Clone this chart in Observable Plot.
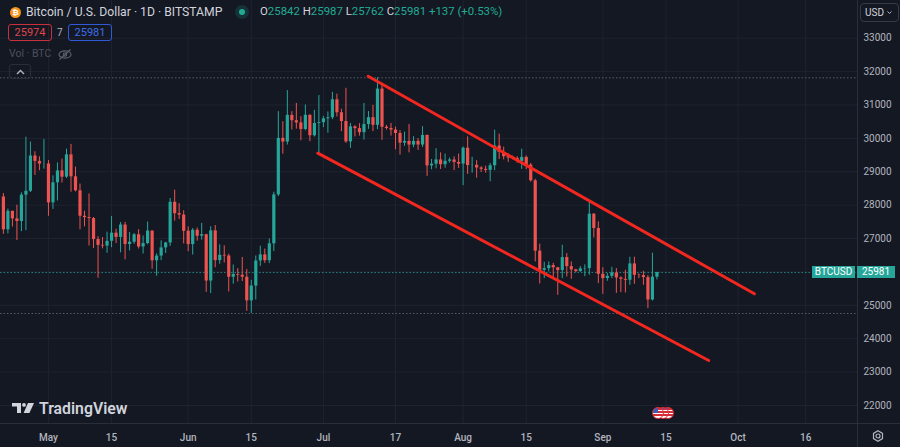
<!DOCTYPE html>
<html>
<head>
<meta charset="utf-8">
<script src="https://cdn.jsdelivr.net/npm/d3@7"></script>
<script src="https://cdn.jsdelivr.net/npm/@observablehq/plot@0.6"></script>
<style>
  html, body { margin:0; padding:0; background:#141823; }
  #wrap { position:relative; width:900px; height:447px; overflow:hidden; background:#141823; font-family: Roboto, "Noto Sans", sans-serif; }
  #wrap > svg { position:absolute; left:0; top:0; }
  .ov { position:absolute; white-space:nowrap; line-height:1; }
</style>
</head>
<body>
<div id="wrap"></div>
<script>
// ---------- DATA (BTC/USD daily, Bitstamp) ----------
const firstDay = "2023-04-21";
const opens = [
  28245,27262,27816,27590,27510,28300,28415,29472,29311,29230,
  29233,28068,28669,29026,28838,29506,28848,28430,27668,27628,27598,26969,26795,26775,26917,27162,27033,27405,26821,26890,27113,26747,26850,27225,26334,26476,26720,26868,28085,27745,27702,
  27219,26819,27249,27069,27115,25728,27230,26339,26498,26477,25841,25925,25903,25842,25134,25576,26328,26511,26336,26842,28307,30000,29890,30688,30528,30462,30267,30692,30078,30446,
  30472,30585,30617,31156,30767,30504,29895,30346,30292,30171,30414,30620,30391,31476,30334,30295,30249,30145,29857,29910,29800,29910,29800,30089,29176,29228,29354,29211,29314,29353,29279,
  29230,29705,29186,29193,29113,29073,29042,29180,29770,29581,29452,29412,29400,29309,29430,29200,28730,26623,26050,26100,26190,26125,26040,26430,26160,26060,26010,26090,26100,27730,27300,
  25930,25800,25870,25970,25820,25780,25750,26240,25900,25890,25830,25160,25842
];
const highs = [
  28350,27882,27816,28000,28371,30036,29890,29599,29448,29969,
  29337,28879,29266,29379,29677,29820,29138,28631,27818,28336,27630,27055,27030,27192,27663,27279,27480,27485,27183,27150,27265,27078,27495,27225,26543,26932,26887,28200,28447,28045,27835,
  27350,27300,27317,27455,27130,27355,27391,26810,26783,26531,26206,26100,26433,26075,25750,26478,26770,26685,26988,28388,30800,30500,31431,30800,31046,30650,31000,30703,30840,31282,
  30660,30791,31380,31322,30875,31500,30449,30379,30440,31045,30804,30990,31814,31630,30390,30450,30336,30233,30188,30418,30050,29995,30350,30100,29369,29690,29567,29530,29413,29450,29530,
  29744,30047,29433,29333,29152,29170,29245,30244,30130,29738,29542,29470,29450,29675,29474,29250,28773,26832,26290,26300,26260,26135,26800,26550,26300,26080,26160,26210,28140,27750,27500,
  26125,25960,26140,26100,25850,26050,26440,26440,25940,26020,25890,26560,25987
];
const lows = [
  27125,27140,27344,26942,27207,27235,28378,28891,29031,29079,
  27666,27872,28125,28662,28800,28388,28395,27262,27353,26777,26702,25811,26692,26560,26726,26852,26573,26361,26631,26829,26688,26538,26814,26080,25871,26339,26554,26766,27524,27570,26841,
  26605,26505,26920,26951,25388,25351,26125,26230,26269,25400,25634,25700,25712,24820,24756,25160,26166,26255,26250,26610,28255,29525,29800,30250,30276,29930,30225,29900,30040,29500,
  30320,30155,30560,30640,30200,29850,29702,30044,30068,29950,30270,30203,30258,29940,30250,30070,29660,29500,29760,29565,29720,29640,29730,28862,29060,29088,29069,29106,29256,29033,29101,
  28585,28920,28959,28806,28978,28958,28701,29033,29366,29355,29280,29358,29255,29073,29064,28690,26300,25640,25800,26000,25800,25300,25800,25850,25780,25980,25990,25860,25900,27020,25650,
  25330,25720,25800,25360,25380,25370,25600,25630,25800,25600,24900,25130,25762
];
const closes = [
  27262,27816,27590,27510,28300,28415,29472,29311,29230,29233,
  28068,28669,29026,28838,29506,28848,28430,27668,27628,27598,26969,26795,26775,26917,27162,27033,27405,26821,26890,27113,26747,26850,27225,26334,26476,26720,26868,28085,27745,27702,27219,
  26819,27249,27069,27115,25728,27230,26339,26498,26477,25841,25925,25903,25842,25134,25576,26328,26511,26336,26842,28307,30000,29890,30688,30528,30462,30267,30692,30078,30446,30472,
  30585,30617,31156,30767,30504,29895,30346,30292,30171,30414,30620,30391,31476,30334,30295,30249,30145,29857,29910,29800,29910,29800,30089,29176,29228,29354,29211,29314,29353,29279,29230,
  29705,29186,29193,29113,29073,29042,29180,29770,29581,29452,29412,29400,29309,29430,29200,28730,26623,26050,26100,26190,26125,26040,26430,26160,26060,26010,26090,26100,27730,27300,25930,
  25800,25870,25970,25820,25780,25750,26240,25900,25890,25830,25160,25844,25981
];

// channel lines drawn on the chart (date, price)
const upperDates  = ["2023-07-10T22:20Z", "2023-10-04T14:50Z"];
const upperPrices = [31862, 25345];
const lowerDates  = ["2023-06-29T18:00Z", "2023-09-24T11:30Z"];
const lowerPrices = [29556, 23347];

// axis ticks
const xTickDates  = ["2023-05-01","2023-05-15","2023-06-01","2023-06-15","2023-07-01","2023-07-17","2023-08-01","2023-08-15","2023-09-01","2023-09-15","2023-10-01","2023-10-16"];
const xTickLabels = ["May","15","Jun","15","Jul","17","Aug","15","Sep","15","Oct","16"];
const yTickValues = [22000,23000,24000,25000,27000,28000,29000,30000,31000,32000,33000];
const yGridValues = [22000,23000,24000,25000,26000,27000,28000,29000,30000,31000,32000,33000];

// header quotes
const symbolTitle = "Bitcoin / U.S. Dollar · 1D · BITSTAMP";
const bidPrice = 25974, askPrice = 25981, spread = 7;
const symbolShort = "BTCUSD";
const currency = "USD";
const volLabel = "Vol · BTC";

// ---------- BUILD ----------
const GREEN = "#26a69a", RED = "#ef5350";
const day0 = Date.parse(firstDay + "T00:00Z");
const candles = opens.map((o, i) => ({
  date: new Date(day0 + i * 864e5), open: o, high: highs[i], low: lows[i], close: closes[i]
}));
const upper = upperDates.map((d, i) => ({date: new Date(d), price: upperPrices[i]}));
const lower = lowerDates.map((d, i) => ({date: new Date(d), price: lowerPrices[i]}));
const xTicks = xTickDates.map(d => new Date(d + "T00:00Z"));
const labelMap = new Map(xTicks.map((d, i) => [+d, xTickLabels[i]]));
const colorOf = d => d.close >= d.open ? GREEN : RED;

const n = candles.length;
const last = candles[n - 1];
const prevClose = candles[n - 2].close;
const change = last.close - prevClose;
const pct = change / prevClose * 100;
const maxHigh = d3.max(highs), minLow = d3.min(lows);

const chart = Plot.plot({
  width: 900, height: 447,
  marginLeft: 0, marginRight: 43, marginTop: 0, marginBottom: 24,
  style: {background: "transparent", color: "#b2b5be", fontFamily: "Roboto, sans-serif", fontSize: "10px"},
  x: {type: "utc", domain: [new Date("2023-04-20T08:38Z"), new Date("2023-10-27T12:00Z")]},
  y: {domain: [21461, 34129]},
  marks: [
    Plot.gridX(xTicks, {stroke: "#1f2330", strokeOpacity: 1}),
    Plot.gridY(yGridValues, {stroke: "#1f2330", strokeOpacity: 1}),
    Plot.ruleY([maxHigh, minLow], {stroke: "#6a6e7a", strokeOpacity: 0.8, strokeDasharray: "1.5,2"}),
    Plot.ruleY([last.close], {stroke: GREEN, strokeOpacity: 0.75, strokeDasharray: "1.5,2"}),
    Plot.ruleX(candles, {x: "date", y1: "low", y2: "high", stroke: colorOf, strokeWidth: 1}),
    Plot.ruleX(candles, {x: "date", y1: "open", y2: "close", stroke: colorOf, strokeWidth: 3.2}),
    Plot.line(upper, {x: "date", y: "price", stroke: "#f2271f", strokeWidth: 3, strokeLinecap: "round"}),
    Plot.line(lower, {x: "date", y: "price", stroke: "#f2271f", strokeWidth: 3, strokeLinecap: "round"}),
    Plot.axisY(yTickValues, {anchor: "right", tickSize: 0, tickPadding: 6, label: null, fill: "#b2b5be", fontSize: 10, tickFormat: d => String(d)}),
    Plot.axisX(xTicks, {anchor: "bottom", tickSize: 0, tickPadding: 10, label: null, fill: "#b2b5be", fontSize: 10, fontWeight: 500, tickFormat: d => labelMap.get(+d)})
  ]
});
const wrap = document.getElementById("wrap");
wrap.appendChild(chart);
const yS = chart.scale("y");

function add(html, css) {
  const el = document.createElement("div");
  el.className = "ov";
  el.innerHTML = html;
  Object.assign(el.style, css);
  wrap.appendChild(el);
  return el;
}
function addSvg(inner, x, y, w, h) {
  const el = document.createElementNS("http://www.w3.org/2000/svg", "svg");
  el.setAttribute("width", w); el.setAttribute("height", h);
  el.setAttribute("viewBox", `0 0 ${w} ${h}`);
  el.style.position = "absolute"; el.style.left = x + "px"; el.style.top = y + "px";
  el.innerHTML = inner;
  wrap.appendChild(el);
}

// separators
add("", {left: "857px", top: "0px", width: "1px", height: "447px", background: "#2a2e39"});
add("", {left: "0px", top: "423px", width: "900px", height: "1px", background: "#2a2e39"});

// header row 1
add("₿", {left: "10px", top: "6.5px", width: "11px", height: "11px", borderRadius: "50%", background: "#f7931a", color: "#fff", fontSize: "8px", fontWeight: "700", textAlign: "center", lineHeight: "11px", fontFamily: "DejaVu Sans, sans-serif"});
add(symbolTitle, {left: "26px", top: "12px", transform: "translateY(-50%)", color: "#d1d4dc", fontSize: "12.2px"});
add("", {left: "235px", top: "5px", width: "14px", height: "14px", borderRadius: "50%", background: "rgba(38,166,154,0.18)"});
add("", {left: "239px", top: "9px", width: "6px", height: "6px", borderRadius: "50%", background: "#22ab94"});
const lab = s => `<span style="color:#d1d4dc">${s}</span>`;
const val = s => `<span style="color:#22ab94">${s}</span>`;
add(`${lab("O")}${val(last.open)} ${lab("H")}${val(last.high)} ${lab("L")}${val(last.low)} ${lab("C")}${val(last.close)} ${val((change >= 0 ? "+" : "") + change + " (" + (change >= 0 ? "+" : "") + pct.toFixed(2) + "%)")}`,
  {left: "260px", top: "12px", transform: "translateY(-50%)", fontSize: "11.4px"});

// header row 2: bid / spread / ask
add(String(bidPrice), {left: "8px", top: "24px", width: "42px", height: "15px", border: "1px solid #c9303c", borderRadius: "3px", color: "#e0454f", fontSize: "11px", textAlign: "center", lineHeight: "15px"});
add(String(spread), {left: "57px", top: "32.5px", transform: "translateY(-50%)", color: "#b2b5be", fontSize: "10px"});
add(String(askPrice), {left: "68px", top: "24px", width: "42px", height: "15px", border: "1px solid #2f5bd8", borderRadius: "3px", color: "#3d6ee8", fontSize: "11px", textAlign: "center", lineHeight: "15px"});

// header row 3: volume
add(volLabel, {left: "9px", top: "54px", transform: "translateY(-50%)", color: "#4c505c", fontSize: "10.5px"});
addSvg(`<ellipse cx="7" cy="5.5" rx="6" ry="3.6" fill="none" stroke="#5d606b" stroke-width="1.2"/><circle cx="7" cy="5.5" r="1.7" fill="none" stroke="#5d606b" stroke-width="1.1"/><line x1="1.5" y1="10.5" x2="12.5" y2="0.5" stroke="#5d606b" stroke-width="1.2"/>`, 58, 48.5, 14, 11);

// collapse button
add("", {left: "9px", top: "64px", width: "20px", height: "13px", border: "1px solid #2a2e39", borderRadius: "3px"});
addSvg(`<polyline points="1,5 4.5,1.5 8,5" fill="none" stroke="#b2b5be" stroke-width="1.4"/>`, 15.5, 68.5, 9, 7);

// currency selector
add(currency, {left: "860px", top: "3px", width: "33px", height: "17px", border: "1px solid #363a45", borderRadius: "4px", color: "#d1d4dc", fontSize: "10px", lineHeight: "17px", paddingLeft: "4px", boxSizing: "content-box"});
addSvg(`<polyline points="0.5,0.5 2.5,2.5 4.5,0.5" fill="none" stroke="#b2b5be" stroke-width="1"/>`, 887, 11, 5, 4);

// last-price labels
const yLast = yS.apply(last.close);
add(symbolShort, {left: "812px", top: (yLast - 6.3) + "px", width: "43px", height: "12.6px", background: "#26a69a", color: "#fff", fontSize: "10px", textAlign: "center", lineHeight: "12.6px"});
add(String(last.close), {left: "857px", top: (yLast - 6.3) + "px", width: "38px", height: "12.6px", background: "#26a69a", color: "#fff", fontSize: "10px", textAlign: "center", lineHeight: "12.6px"});

// TradingView watermark
addSvg(`<path d="M0,0 H9 V10 H5 V3.6 H0 Z" fill="#d1d4dc"/><circle cx="12" cy="1.9" r="1.9" fill="#d1d4dc"/><path d="M16,0 H22 L17.4,10 H11.6 Z" fill="#d1d4dc"/>`, 12, 403, 22, 10);
add("TradingView", {left: "39px", top: "408.5px", transform: "translateY(-50%)", color: "#d1d4dc", fontSize: "15.8px", fontWeight: "600"});

// economic event flags
[668, 663, 658].forEach(cx => {
  add("", {left: (cx - 6.5) + "px", top: "406.5px", width: "10px", height: "10px", borderRadius: "50%", border: "1.5px solid #e0323c",
    background: "linear-gradient(#3c5ab8,#3c5ab8) top left / 50% 50% no-repeat, repeating-linear-gradient(#d62b35 0 1.6px, #ffffff 1.6px 3.2px)"});
});

// settings gear
addSvg(`<polygon points="6,0.8 10.5,3.4 10.5,8.6 6,11.2 1.5,8.6 1.5,3.4" fill="none" stroke="#b2b5be" stroke-width="1.2"/><circle cx="6" cy="6" r="2" fill="none" stroke="#b2b5be" stroke-width="1.2"/>`, 872, 430, 12, 12);
</script>
</body>
</html>
